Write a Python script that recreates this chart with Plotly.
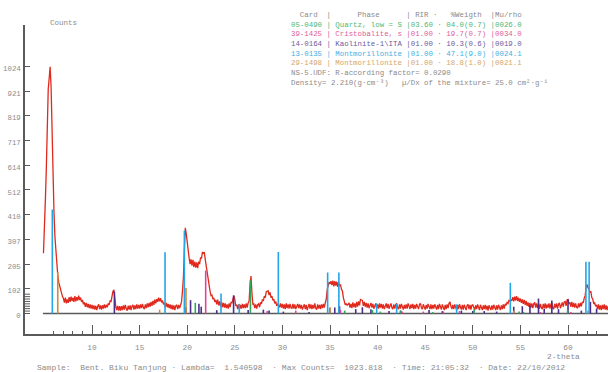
import plotly.graph_objects as go

# ---------------- data ----------------
theta_start = 4.9
theta_step = 0.1
counts = [
    250,
    415, 470, 600, 780, 930, 975, 1023, 940, 730, 560,      # 5.x
    427, 320, 250, 200, 160, 130, 112, 95, 84, 70,          # 6.x
    62, 45, 66, 42, 58, 44, 68, 48, 70, 52,                 # 7.x
    66, 48, 72, 50, 68, 54, 74, 56, 66, 48,                 # 8.x
    56, 38, 46, 28, 44, 26, 40, 22, 38, 20,                 # 9.x
    36, 18, 34, 16, 32, 14, 30, 38, 18, 34,                 # 10.x
    16, 34, 20, 38, 22, 36, 26, 42, 36, 52,                 # 11.x
    50, 74, 92, 98, 56, 28, 14, 32, 12, 30,                 # 12.x
    12, 30, 14, 34, 16, 36, 20, 12, 32, 16,                 # 13.x
    34, 14, 30, 36, 16, 34, 18, 38, 20, 36,                 # 14.x
    20, 38, 22, 40, 24, 18, 38, 22, 42, 26,                 # 15.x
    44, 28, 48, 32, 52, 36, 58, 42, 60, 48,                 # 16.x
    66, 50, 64, 46, 54, 38, 44, 28, 44, 26,                 # 17.x
    40, 22, 38, 18, 36, 16, 34, 14, 32, 36,                 # 18.x
    18, 36, 22, 34, 48, 92, 150, 265, 355, 330,             # 19.x
    290, 240, 230, 205, 225, 198, 222, 192, 215, 190,       # 20.x
    212, 188, 215, 205, 232, 228, 255, 250, 252, 222,       # 21.x
    195, 158, 132, 100, 92, 74, 76, 60, 64, 48,             # 22.x
    56, 38, 58, 34, 50, 30, 48, 26, 44, 24,                 # 23.x
    42, 22, 38, 20, 42, 26, 46, 44, 68, 74,                 # 24.x
    58, 32, 36, 18, 38, 18, 36, 20, 40, 22,                 # 25.x
    38, 22, 42, 24, 44, 52, 120, 155, 84, 38,               # 26.x
    40, 22, 38, 20, 36, 40, 26, 46, 40, 58,                 # 27.x
    52, 72, 66, 90, 92, 94, 76, 88, 66, 72,                 # 28.x
    54, 60, 42, 50, 32, 40, 34, 26, 42, 24,                 # 29.x
    40, 20, 38, 18, 42, 22, 38, 20, 40, 24,                 # 30.x
    22, 40, 20, 38, 18, 36, 40, 22, 38, 20,                 # 31.x
    36, 16, 34, 38, 18, 36, 14, 34, 40, 20,                 # 32.x
    38, 18, 36, 20, 42, 22, 16, 38, 20, 36,                 # 33.x
    18, 38, 22, 40, 24, 44, 58, 98, 112, 130,               # 34.x
    122, 134, 118, 136, 112, 134, 116, 132, 110, 130,       # 35.x
    116, 120, 100, 94, 66, 54, 36, 40, 34, 38,              # 36.x
    44, 24, 40, 22, 46, 26, 42, 24, 48, 28,                 # 37.x
    50, 34, 58, 56, 54, 32, 48, 28, 44, 24,                 # 38.x
    42, 22, 38, 44, 24, 40, 20, 38, 42, 22,                 # 39.x
    38, 20, 42, 24, 40, 20, 38, 18, 36, 42,                 # 40.x
    22, 40, 20, 36, 42, 24, 18, 38, 20, 36,                 # 41.x
    42, 24, 18, 38, 20, 40, 22, 16, 36, 20,                 # 42.x
    38, 20, 42, 24, 18, 38, 22, 40, 18, 36,                 # 43.x
    20, 40, 22, 18, 38, 42, 24, 18, 38, 22,                 # 44.x
    16, 36, 20, 40, 22, 18, 38, 18, 36, 20,                 # 45.x
    38, 20, 16, 36, 18, 40, 22, 16, 38, 20,                 # 46.x
    14, 36, 18, 38, 22, 42, 48, 30, 18, 36,                 # 47.x
    18, 38, 20, 14, 36, 18, 38, 20, 16, 36,                 # 48.x
    16, 36, 20, 14, 34, 38, 18, 36, 16, 34,                 # 49.x
    36, 18, 14, 34, 18, 38, 20, 14, 36, 18,                 # 50.x
    14, 34, 18, 36, 16, 32, 12, 34, 18, 14,                 # 51.x
    34, 16, 36, 18, 14, 34, 16, 36, 20, 14,                 # 52.x
    34, 18, 38, 20, 40, 34, 46, 42, 56, 50,                 # 53.x
    58, 52, 68, 50, 70, 54, 72, 52, 66, 48,                 # 54.x
    62, 44, 58, 40, 56, 36, 52, 32, 46, 28,                 # 55.x
    44, 24, 42, 22, 40, 46, 24, 42, 22, 40,                 # 56.x
    20, 40, 24, 18, 40, 22, 42, 20, 38, 24,                 # 57.x
    42, 20, 38, 44, 22, 18, 40, 24, 42, 20,                 # 58.x
    38, 44, 22, 42, 46, 28, 48, 50, 32, 56,                 # 59.x
    58, 40, 46, 28, 48, 26, 44, 24, 42, 26,                 # 60.x
    22, 42, 26, 44, 30, 48, 44, 64, 74, 108,                # 61.x
    120, 106, 102, 88, 90, 66, 60, 40, 44, 30,              # 62.x
    36, 18, 38, 16, 34, 14, 36, 18, 38, 16,                 # 63.x
    34, 14, 30,                                             # 64.x
]

# reference pattern sticks (2-theta, counts)
mont13_pos = [5.83, 17.67, 19.70, 23.55, 25.47, 29.57, 34.75, 35.93, 39.90, 42.00, 48.30, 53.94, 61.88, 62.22]
mont13_h   = [431, 254, 344, 83, 40, 255, 170, 170, 42, 40, 38, 127, 215, 215]
mont29_pos = [6.40, 17.10, 19.87, 35.00, 54.30, 62.10]
mont29_h   = [171, 16, 106, 26, 12, 12]
crist_pos  = [21.94, 28.40, 31.40, 36.10, 42.60, 44.80, 46.90, 48.60, 57.10, 60.30]
crist_h    = [178, 10, 12, 15, 8, 8, 8, 10, 6, 6]
quartz_pos = [20.85, 26.64, 36.54, 39.46, 40.29, 42.45, 45.79, 50.14, 54.87, 55.33, 59.96]
quartz_h   = [44, 137, 12, 14, 8, 12, 6, 18, 8, 6, 16]
kaol_pos = [12.35, 19.86, 20.35, 21.23, 21.47, 23.10, 24.87, 26.40, 28.00, 28.60, 30.10, 32.80,
            34.97, 35.50, 36.00, 37.70, 38.40, 39.30, 41.20, 42.40, 45.40, 46.80, 48.80, 50.00,
            51.20, 52.50, 54.30, 55.20, 56.00, 56.90, 57.50, 58.30, 59.00, 60.00, 61.40, 62.35, 63.00]
kaol_h   = [90, 26, 55, 40, 28, 14, 75, 15, 16, 12, 8, 6,
            22, 25, 30, 18, 26, 18, 10, 12, 14, 10, 12, 10,
            10, 8, 28, 30, 33, 62, 20, 54, 18, 58, 12, 48, 20]

y_tickvals = [0, 102.4, 204.8, 307.2, 409.6, 512, 614.4, 716.8, 819.2, 921.6, 1024]
y_ticktext = ["0", "102", "205", "307", "410", "512", "614", "717", "819", "921", "1024"]
y_minor_vals = [10, 20, 30, 40, 50, 60, 70, 80]
x_tickvals = [10, 15, 20, 25, 30, 35, 40, 45, 50, 55, 60]
x_minor_vals = [6, 7, 8, 9, 11, 12, 13, 14, 16, 17, 18, 19, 21, 22, 23, 24, 26, 27, 28, 29,
                31, 32, 33, 34, 36, 37, 38, 39, 41, 42, 43, 44, 46, 47, 48, 49, 51, 52, 53, 54,
                56, 57, 58, 59, 61, 62, 63]

header_rows = [
    ("  Card  |      Phase      | RIR ·   %Weigth  |Mu/rho", "#8a8a8a"),
    ("05-0490 | Quartz, low = S |03.60 · 04.0(0.7) |0026.0", "#4cb878"),
    ("39-1425 | Cristobalite, s |01.00 · 19.7(0.7) |0034.0", "#e0609a"),
    ("14-0164 | Kaolinite-1\\ITA |01.00 · 10.3(0.6) |0019.0", "#6a5c9c"),
    ("13-0135 | Montmorillonite |01.00 · 47.1(9.0) |0024.1", "#3cb0e4"),
    ("29-1498 | Montmorillonite |01.00 · 18.8(1.0) |0021.1", "#d4a66a"),
    ("NS-5.UDF: R-according factor= 0.0290", "#8a8a8a"),
    ("Density= 2.210(g·cm⁻³)   µ/Dx of the mixture= 25.0 cm²·g⁻¹", "#8a8a8a"),
]
footer_text = "Sample:  Bent. Biku Tanjung · Lambda=  1.540598  · Max Counts=  1023.818  · Time: 21:05:32  · Date: 22/10/2012"

# ---------------- layout geometry ----------------
W, H = 608, 372
ML, MR, MT, MB = 25, 0, 25, 38
PW, PH = W - ML - MR, H - MT - MB
x_range = [2.96, 64.2]
y_range = [-85, 1196]
FONT = "Liberation Mono, Courier New, monospace"
GREY = "#8c8c8c"
AXIS = "#5a5a5a"


def px2x(px):
    return (px - ML) / PW


def py2y(py):
    return (H - MB - py) / PH


def nb(s):
    return s.replace(" ", "\u00a0")


def sticks(pos, h):
    xs, ys = [], []
    for p, v in zip(pos, h):
        xs += [p, p, None]
        ys += [0, v, None]
    return xs, ys


theta = [theta_start + i * theta_step for i in range(len(counts))]

fig = go.Figure()
# baseline
fig.add_trace(go.Scatter(x=[4.85, x_range[1]], y=[0, 0], mode="lines",
                         line=dict(color=AXIS, width=1.5), hoverinfo="skip", showlegend=False))
# measured pattern
fig.add_trace(go.Scatter(x=theta, y=counts, mode="lines",
                         line=dict(color="#e0291c", width=1.3), showlegend=False))

stick_sets = [
    (kaol_pos, kaol_h, "#4b2d8a"),
    (quartz_pos, quartz_h, "#2fa85a"),
    (crist_pos, crist_h, "#e0449a"),
    (mont29_pos, mont29_h, "#d08a3c"),
    (mont13_pos, mont13_h, "#22a6e6"),
]
for pos, h, col in stick_sets:
    xs, ys = sticks(pos, h)
    fig.add_trace(go.Scatter(x=xs, y=ys, mode="lines", line=dict(color=col, width=1.6),
                             showlegend=False, hoverinfo="skip"))

annotations = []
row_y0, row_dy = 15, 9.67
for i, (txt, col) in enumerate(header_rows):
    annotations.append(dict(x=px2x(289), y=py2y(row_y0 + i * row_dy), xref="paper", yref="paper",
                            text=nb(txt), showarrow=False, xanchor="left", yanchor="middle",
                            font=dict(family=FONT, size=7.4, color=col)))
annotations.append(dict(x=px2x(63), y=py2y(23), xref="paper", yref="paper", text="Counts",
                        showarrow=False, xanchor="center", yanchor="middle",
                        font=dict(family=FONT, size=7.5, color=GREY)))
annotations.append(dict(x=px2x(563), y=py2y(357), xref="paper", yref="paper", text="2-theta",
                        showarrow=False, xanchor="center", yanchor="middle",
                        font=dict(family=FONT, size=7.8, color=GREY)))
annotations.append(dict(x=px2x(301), y=py2y(367), xref="paper", yref="paper", text=nb(footer_text),
                        showarrow=False, xanchor="center", yanchor="middle",
                        font=dict(family=FONT, size=8, color=GREY)))

shapes = []
for v in y_minor_vals:
    shapes.append(dict(type="line", xref="paper", yref="y", x0=0, x1=5 / PW, y0=v, y1=v,
                       line=dict(color=AXIS, width=1)))

fig.update_layout(
    width=W, height=H,
    margin=dict(l=ML, r=MR, t=MT, b=MB, pad=0),
    paper_bgcolor="white", plot_bgcolor="white",
    showlegend=False,
    annotations=annotations,
    shapes=shapes,
    xaxis=dict(range=x_range, showgrid=False, zeroline=False, showline=True,
               linecolor=AXIS, linewidth=1.5, ticks="inside", ticklen=9, tickwidth=1,
               tickcolor=AXIS, tickmode="array", tickvals=x_tickvals,
               ticktext=[str(v) for v in x_tickvals], ticklabelstandoff=5,
               tickfont=dict(family=FONT, size=7.8, color=GREY),
               minor=dict(tickmode="array", tickvals=x_minor_vals, ticks="inside",
                          ticklen=3, tickwidth=1, tickcolor=AXIS, showgrid=False)),
    yaxis=dict(range=y_range, showgrid=False, zeroline=False, showline=True,
               linecolor=AXIS, linewidth=1.5, ticks="inside", ticklen=5, tickwidth=1,
               tickcolor=AXIS, tickmode="array", tickvals=y_tickvals, ticktext=y_ticktext,
               ticklabelstandoff=1, ticklabelshift=2,
               tickfont=dict(family=FONT, size=7.4, color=GREY)),
)

fig.write_html("out.html")
